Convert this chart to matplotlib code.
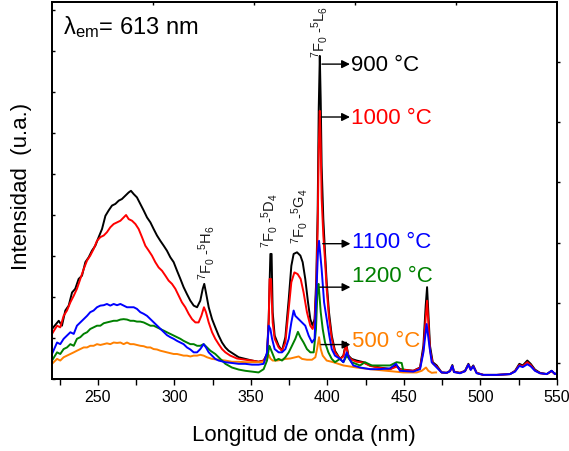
import matplotlib
matplotlib.use("Agg")
import matplotlib.pyplot as plt
from matplotlib.ticker import MultipleLocator, FixedLocator

plt.rcParams["font.family"] = ["Liberation Sans", "DejaVu Sans"]
plt.rcParams["mathtext.fontset"] = "custom"
plt.rcParams["mathtext.rm"] = "Liberation Sans"
plt.rcParams["mathtext.it"] = "Liberation Sans:italic"

# ---- excitation spectra (lambda_em = 613 nm), intensity in arbitrary units ----
wl_900 = [220.0, 224.4, 226.5, 228.7, 230.9, 233.1, 235.2, 237.4, 239.6, 241.8, 244.0, 246.1,
          248.3, 250.5, 252.7, 254.9, 257.0, 259.2, 261.4, 263.6, 265.7, 267.9, 270.1, 271.6,
          273.4, 275.5, 277.7, 279.9, 282.1, 284.3, 286.4, 288.6, 290.8, 293.0, 295.1, 297.3,
          299.5, 301.7, 303.9, 306.0, 308.2, 310.4, 312.6, 314.8, 316.9, 318.5, 319.5, 320.6,
          322.4, 324.6, 326.7, 328.9, 331.1, 333.3, 335.4, 338.7, 342.0, 346.3, 350.7, 355.0,
          358.3, 360.5, 361.6, 362.7, 363.5, 364.2, 365.5, 368.1, 370.3, 372.5, 374.7, 376.4,
          377.9, 380.1, 382.3, 383.8, 385.5, 387.3, 388.8, 390.3, 391.6, 392.7, 393.6, 394.3,
          395.0, 395.6, 396.2, 397.3, 398.4, 399.5, 401.0, 402.8, 404.9, 408.2, 410.4, 412.1,
          413.7, 415.8, 419.1, 423.5, 427.8, 434.3, 440.9, 445.2, 447.4, 456.1, 460.5, 462.7,
          464.2, 465.1, 465.9, 467.0, 468.8, 471.4, 474.6, 477.9, 480.1, 481.6, 482.7, 486.6,
          489.9, 492.1, 493.6, 495.3, 497.5, 501.9, 510.6, 519.3, 522.6, 525.4, 527.6, 530.6,
          532.8, 535.6, 538.9, 543.3, 546.5, 548.7, 549.8]
int_900 = [1.22, 1.42, 1.30, 1.67, 1.79, 2.11, 2.20, 2.44, 2.52, 2.85, 2.97, 3.13,
           3.25, 3.46, 3.66, 3.98, 4.11, 4.23, 4.27, 4.35, 4.39, 4.47, 4.55, 4.59,
           4.51, 4.43, 4.27, 4.11, 3.94, 3.82, 3.66, 3.50, 3.37, 3.25, 3.13, 2.97,
           2.85, 2.64, 2.44, 2.24, 2.07, 1.91, 1.79, 1.75, 1.91, 2.20, 2.32, 2.11,
           1.75, 1.46, 1.26, 1.06, 0.89, 0.77, 0.69, 0.61, 0.53, 0.49, 0.45, 0.42,
           0.45, 0.61, 1.46, 3.05, 3.05, 1.63, 1.06, 0.81, 0.69, 1.02, 1.95, 2.76,
           3.05, 3.09, 3.01, 2.85, 2.44, 1.87, 1.46, 1.30, 1.46, 2.44, 4.07, 6.60,
           7.88, 6.80, 5.20, 3.90, 3.09, 2.36, 1.63, 1.06, 0.69, 0.49, 0.57, 0.89,
           0.57, 0.49, 0.45, 0.41, 0.33, 0.28, 0.24, 0.33, 0.24, 0.20, 0.28, 0.81,
           1.79, 2.24, 1.63, 0.81, 0.41, 0.33, 0.16, 0.15, 0.20, 0.34, 0.18, 0.15,
           0.20, 0.37, 0.24, 0.33, 0.15, 0.10, 0.10, 0.12, 0.20, 0.37, 0.33, 0.45,
           0.37, 0.23, 0.15, 0.12, 0.20, 0.12, 0.14]

wl_1000 = [220.0, 223.3, 225.4, 227.6, 229.8, 232.0, 234.2, 236.3, 238.5, 240.7, 242.9, 245.0,
           247.2, 249.4, 251.6, 253.8, 255.9, 258.1, 260.3, 262.5, 264.7, 266.8, 268.4, 270.1,
           272.3, 274.5, 276.6, 278.8, 281.0, 283.2, 285.3, 287.5, 289.7, 291.9, 294.1, 296.2,
           298.4, 300.6, 302.8, 304.9, 307.1, 309.3, 311.5, 313.7, 315.8, 317.6, 319.3, 320.6,
           322.4, 324.6, 326.7, 328.9, 331.1, 333.3, 336.5, 340.9, 346.3, 350.7, 355.0, 358.3,
           360.5, 361.6, 362.2, 363.1, 364.2, 365.5, 368.1, 370.3, 372.5, 374.7, 376.4, 378.4,
           380.5, 382.5, 384.4, 386.6, 388.8, 390.3, 391.6, 392.7, 393.6, 394.3, 395.0, 395.6,
           396.2, 397.3, 398.4, 399.5, 401.0, 402.8, 404.9, 408.2, 410.4, 412.1, 413.7, 415.8,
           419.1, 423.5, 427.8, 434.3, 440.9, 445.2, 447.4, 456.1, 460.5, 462.7, 464.2, 465.1,
           465.9, 467.0, 468.8, 471.4, 474.6, 477.9, 480.1, 481.6, 482.7, 486.6, 489.9, 492.1,
           493.6, 495.3, 497.5, 501.9, 510.6, 519.3, 522.6, 525.4, 527.6, 530.6, 532.8, 535.6,
           538.9, 543.3, 546.5, 548.7, 549.8]
int_1000 = [1.10, 1.30, 1.26, 1.54, 1.67, 1.87, 2.03, 2.20, 2.44, 2.68, 2.89, 3.01,
            3.17, 3.37, 3.46, 3.50, 3.58, 3.70, 3.78, 3.82, 3.86, 3.94, 4.00, 3.90,
            3.86, 3.78, 3.66, 3.46, 3.25, 3.13, 3.01, 2.85, 2.72, 2.64, 2.52, 2.40,
            2.32, 2.20, 2.03, 1.87, 1.75, 1.59, 1.46, 1.38, 1.38, 1.54, 1.75, 1.63,
            1.38, 1.14, 0.98, 0.85, 0.73, 0.65, 0.57, 0.50, 0.47, 0.45, 0.42, 0.45,
            0.57, 1.38, 2.44, 2.44, 1.38, 0.98, 0.77, 0.69, 0.89, 1.71, 2.36, 2.60,
            2.56, 2.44, 2.11, 1.63, 1.30, 1.22, 1.38, 2.20, 3.66, 5.60, 6.54, 5.70,
            4.40, 3.50, 2.90, 2.20, 1.50, 0.98, 0.65, 0.49, 0.55, 0.85, 0.55, 0.47,
            0.42, 0.40, 0.32, 0.27, 0.24, 0.30, 0.23, 0.20, 0.27, 0.70, 1.50, 1.91,
            1.40, 0.70, 0.38, 0.30, 0.16, 0.15, 0.19, 0.32, 0.17, 0.15, 0.19, 0.35,
            0.23, 0.31, 0.15, 0.10, 0.10, 0.12, 0.19, 0.34, 0.31, 0.41, 0.34, 0.21,
            0.14, 0.12, 0.19, 0.12, 0.13]

wl_1100 = [220.0, 223.3, 225.4, 227.6, 229.8, 232.0, 234.2, 236.3, 238.5, 240.7, 242.9, 245.0,
           247.2, 249.4, 251.6, 253.8, 255.9, 258.1, 260.3, 262.5, 264.7, 266.8, 269.0, 271.2,
           273.4, 275.5, 277.7, 279.9, 282.1, 284.3, 286.4, 288.6, 290.8, 293.0, 295.1, 297.3,
           299.5, 301.7, 303.9, 306.0, 308.2, 310.4, 312.6, 314.8, 316.9, 319.1, 320.6, 322.4,
           324.6, 326.7, 328.9, 333.3, 337.6, 342.0, 346.3, 350.7, 355.0, 358.3, 360.5, 361.6,
           362.7, 363.8, 365.5, 368.1, 370.3, 372.5, 374.7, 376.4, 377.9, 379.0, 381.2, 383.4,
           385.5, 387.7, 389.9, 391.6, 392.7, 393.8, 394.5, 396.2, 397.8, 399.5, 401.2, 402.8,
           404.9, 408.2, 410.4, 412.6, 414.3, 416.9, 421.3, 427.8, 434.3, 440.9, 444.8, 447.4,
           456.1, 460.5, 462.7, 464.8, 466.6, 468.1, 471.4, 474.6, 477.9, 480.1, 481.6, 482.7,
           486.6, 489.9, 492.1, 493.6, 495.3, 497.5, 501.9, 510.6, 519.3, 522.6, 525.4, 527.6,
           530.6, 532.8, 535.6, 538.9, 543.3, 546.5, 548.7, 549.8]
int_1100 = [0.61, 0.89, 0.85, 0.98, 1.06, 1.14, 1.10, 1.30, 1.38, 1.46, 1.54, 1.63,
            1.67, 1.75, 1.79, 1.80, 1.83, 1.79, 1.83, 1.80, 1.83, 1.79, 1.75, 1.75,
            1.75, 1.71, 1.63, 1.59, 1.54, 1.46, 1.38, 1.30, 1.22, 1.14, 1.07, 1.02,
            0.98, 0.93, 0.89, 0.85, 0.77, 0.72, 0.65, 0.65, 0.73, 0.85, 0.77, 0.65,
            0.57, 0.49, 0.45, 0.41, 0.39, 0.37, 0.37, 0.35, 0.35, 0.37, 0.65, 1.30,
            1.22, 0.98, 0.73, 0.65, 0.65, 0.73, 0.98, 1.38, 1.67, 1.54, 1.46, 1.38,
            1.30, 1.06, 0.89, 0.98, 2.03, 3.10, 3.37, 2.68, 1.87, 1.46, 1.06, 0.73,
            0.57, 0.49, 0.41, 0.65, 0.49, 0.33, 0.28, 0.24, 0.24, 0.26, 0.37, 0.20,
            0.18, 0.24, 0.65, 1.34, 0.81, 0.41, 0.28, 0.16, 0.15, 0.19, 0.32, 0.17,
            0.14, 0.19, 0.35, 0.22, 0.31, 0.14, 0.10, 0.10, 0.12, 0.18, 0.32, 0.29,
            0.36, 0.31, 0.20, 0.14, 0.12, 0.20, 0.12, 0.14]

wl_1200 = [220.0, 223.3, 225.4, 227.6, 229.8, 232.0, 234.2, 236.3, 238.5, 240.7, 242.9, 245.0,
           247.2, 249.4, 251.6, 253.8, 255.9, 258.1, 260.3, 262.5, 264.7, 266.8, 269.0, 271.2,
           273.4, 275.5, 277.7, 279.9, 282.1, 284.3, 286.4, 288.6, 290.8, 293.0, 295.1, 297.3,
           299.5, 301.7, 303.9, 306.0, 308.2, 310.4, 312.6, 314.8, 316.9, 319.1, 321.3, 323.5,
           326.7, 330.0, 333.3, 337.6, 342.0, 346.3, 350.7, 355.0, 358.3, 360.5, 362.0, 362.9,
           364.2, 365.9, 368.1, 370.3, 372.5, 374.7, 376.8, 379.0, 380.7, 382.3, 384.4, 386.6,
           388.8, 391.0, 392.5, 393.6, 394.2, 395.6, 396.9, 398.4, 400.6, 402.8, 404.9, 408.2,
           410.4, 412.6, 415.8, 421.3, 424.5, 428.9, 434.3, 440.9, 445.2, 448.5, 449.6]
int_1200 = [0.45, 0.65, 0.61, 0.73, 0.77, 0.85, 0.81, 0.98, 1.02, 1.10, 1.14, 1.22,
            1.26, 1.30, 1.30, 1.36, 1.38, 1.40, 1.42, 1.42, 1.45, 1.46, 1.45, 1.42,
            1.42, 1.40, 1.40, 1.38, 1.34, 1.30, 1.30, 1.26, 1.22, 1.18, 1.14, 1.10,
            1.06, 1.02, 0.98, 0.93, 0.89, 0.85, 0.85, 0.81, 0.81, 0.85, 0.77, 0.69,
            0.61, 0.49, 0.37, 0.28, 0.23, 0.20, 0.18, 0.16, 0.24, 0.45, 0.81, 0.73,
            0.61, 0.45, 0.49, 0.45, 0.53, 0.65, 0.81, 0.98, 1.15, 1.02, 0.89, 0.73,
            0.65, 0.65, 1.22, 2.28, 2.32, 1.63, 1.22, 0.89, 0.65, 0.49, 0.41, 0.49,
            0.41, 0.57, 0.41, 0.33, 0.41, 0.33, 0.33, 0.33, 0.41, 0.39, 0.20]

wl_500 = [220.0, 223.3, 225.4, 227.6, 229.8, 232.0, 234.2, 236.3, 238.5, 240.7, 242.9, 245.0,
          247.2, 249.4, 251.6, 253.8, 255.9, 258.1, 260.3, 262.5, 264.7, 266.8, 269.0, 271.2,
          273.4, 275.5, 277.7, 279.9, 282.1, 284.3, 286.4, 288.6, 290.8, 293.0, 295.1, 297.3,
          299.5, 301.7, 303.9, 306.0, 308.2, 310.4, 312.6, 314.8, 316.9, 319.1, 321.3, 324.6,
          328.9, 333.3, 337.6, 342.0, 346.3, 350.7, 355.0, 358.3, 360.5, 361.6, 362.7, 364.2,
          367.0, 370.3, 372.5, 375.7, 379.0, 381.2, 383.4, 386.6, 389.9, 392.1, 393.2, 394.5,
          395.6, 396.9, 399.5, 403.8, 410.4, 419.1, 427.8, 438.7, 449.6, 458.3, 461.6, 464.4,
          465.9, 468.1, 470.3, 471.0]
int_500 = [0.37, 0.49, 0.45, 0.53, 0.57, 0.61, 0.65, 0.69, 0.73, 0.77, 0.77, 0.81,
           0.81, 0.85, 0.83, 0.85, 0.87, 0.85, 0.89, 0.88, 0.89, 0.85, 0.89, 0.85,
           0.85, 0.83, 0.81, 0.80, 0.77, 0.77, 0.73, 0.72, 0.69, 0.67, 0.65, 0.63,
           0.61, 0.61, 0.59, 0.57, 0.57, 0.55, 0.57, 0.57, 0.59, 0.57, 0.53, 0.49,
           0.47, 0.45, 0.42, 0.42, 0.41, 0.41, 0.41, 0.42, 0.49, 0.59, 0.50, 0.45,
           0.45, 0.47, 0.49, 0.50, 0.53, 0.55, 0.49, 0.47, 0.47, 0.53, 0.73, 1.02,
           0.73, 0.57, 0.45, 0.41, 0.33, 0.28, 0.24, 0.20, 0.16, 0.16, 0.20, 0.28,
           0.20, 0.15, 0.16, 0.16]

series_labels = ["900 °C", "1000 °C", "1100 °C", "1200 °C", "500 °C"]
series_colors = ["#000000", "#ff0000", "#0000ff", "#008000", "#ff8000"]

# label anchors: (arrow tail wl, arrow head wl, arrow y, text y)
arrow_tail = [396.4, 396.0, 396.9, 395.0, 395.8]
arrow_head = [414.7, 414.7, 415.0, 415.0, 415.0]
arrow_y = [7.68, 6.39, 3.30, 2.24, 0.84]
text_y = [7.68, 6.39, 3.35, 2.52, 0.93]

# transitions of Eu3+: (label, wl position, bottom of label)
trans_labels = [r"$^{7}$F$_{0}$ -$^{5}$H$_{6}$", r"$^{7}$F$_{0}$ -$^{5}$D$_{4}$",
                r"$^{7}$F$_{0}$ -$^{5}$G$_{4}$", r"$^{7}$F$_{0}$ -$^{5}$L$_{6}$"]
trans_wl = [320.8, 362.3, 382.0, 394.6]
trans_y = [2.45, 3.22, 3.32, 7.86]

xticks_major = [250, 300, 350, 400, 450, 500, 550]

fig = plt.figure(figsize=(5.69, 4.52), dpi=100)
ax = fig.add_axes([52 / 569, 1 - 380 / 452, 505 / 569, 377 / 452])

spectra = {
    "900 °C": (wl_900, int_900),
    "1000 °C": (wl_1000, int_1000),
    "1100 °C": (wl_1100, int_1100),
    "1200 °C": (wl_1200, int_1200),
    "500 °C": (wl_500, int_500),
}
order = ["900 °C", "1000 °C", "500 °C", "1200 °C", "1100 °C"]
for name in order:
    i = series_labels.index(name)
    wl, inten = spectra[name]
    ax.plot(wl, inten, color=series_colors[i], lw=1.4, solid_joinstyle="round")

ax.set_xlim(220, 550)
ax.set_ylim(0, 9.195)

for i, name in enumerate(series_labels):
    ax.annotate("", xy=(arrow_head[i], arrow_y[i]), xytext=(arrow_tail[i], arrow_y[i]),
                arrowprops=dict(arrowstyle="-|>", color="black", lw=1.0,
                                mutation_scale=12, shrinkA=0, shrinkB=0))
    ax.text(arrow_head[i] + 0.8, text_y[i], name, color=series_colors[i],
            fontsize=16, ha="left", va="center")

for lab, wl, yb in zip(trans_labels, trans_wl, trans_y):
    ax.text(wl, yb, lab, rotation=90, ha="center", va="bottom", fontsize=10.5,
            color="#1a1a1a")

ax.text(0.022, 0.918, r"λ$_{\mathrm{em}}$= 613 nm", transform=ax.transAxes,
        fontsize=17, ha="left", va="baseline")

# axes styling
for sp in ax.spines.values():
    sp.set_linewidth(1.2)
ax.xaxis.set_major_locator(FixedLocator(xticks_major))
ax.xaxis.set_minor_locator(MultipleLocator(25))
ax.tick_params(axis="x", which="major", direction="out", length=4.5, width=1.0,
               labelsize=11.5, pad=3)
ax.tick_params(axis="x", which="minor", direction="out", length=4.0, width=1.0)
ax.yaxis.set_major_locator(MultipleLocator(1))
ax.tick_params(axis="y", which="major", direction="in", length=2.5, width=1.0,
               labelleft=False)

# secondary frame ticks (top and right)
axt = ax.twiny()
axt.set_xlim(0, 5)
axt.xaxis.set_major_locator(FixedLocator([1, 2, 3, 4]))
axt.tick_params(axis="x", direction="in", length=2.5, width=1.0, labeltop=False)
axr = ax.twinx()
axr.set_ylim(-0.266, 6.0)
axr.yaxis.set_major_locator(FixedLocator([0, 1, 2, 3, 4, 5]))
axr.tick_params(axis="y", direction="out", length=2.5, width=1.0, labelright=False)
for a in (axt, axr):
    for sp in a.spines.values():
        sp.set_linewidth(1.2)

fig.text(304 / 569, 1 - 436 / 452, "Longitud de onda (nm)", fontsize=16,
         ha="center", va="center")
fig.text(22 / 569, 1 - 186 / 452, "Intensidad  (u.a.)", fontsize=16,
         ha="center", va="center", rotation=90)

fig.savefig("out.png", dpi=100)
